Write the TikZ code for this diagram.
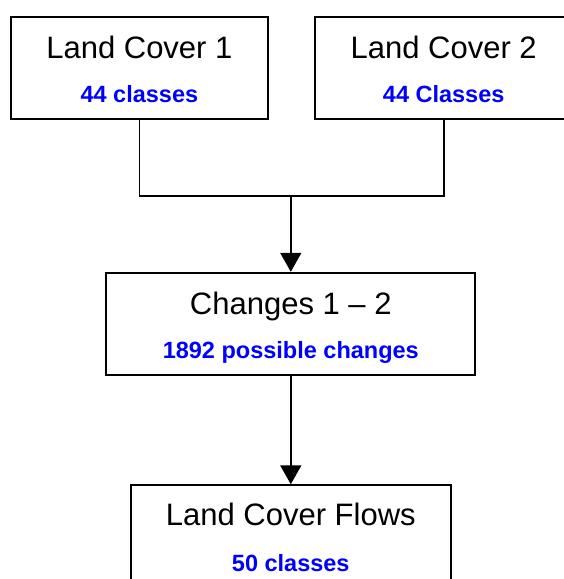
\documentclass[tikz,border=0pt]{standalone}
\usepackage{fontspec}
\setmainfont{Liberation Sans}
\usepackage{tikz}
\usetikzlibrary{arrows.meta}

\definecolor{subblue}{RGB}{0,0,255}

\tikzset{
  box/.style={draw, line width=2pt, minimum height=102pt, inner sep=0pt},
  title/.style={anchor=base, inner sep=0pt, font=\fontsize{31}{37}\selectfont},
  sub/.style={anchor=base, inner sep=0pt, text=subblue, font=\fontsize{23.5}{28}\selectfont\bfseries},
  conn/.style={line width=1.6pt},
  flow/.style={conn, -{Triangle[width=21pt,length=19pt]}}
}

\begin{document}
\begin{tikzpicture}[x=1pt,y=-1pt]
  \useasboundingbox (0,0) rectangle (563,579);

  \node[box, minimum width=257pt] (lc1) at (139.4,67.8) {};
  \node[box, minimum width=258pt] (lc2) at (443.7,67.8) {};
  \node[box, minimum width=369pt] (chg) at (290.8,323.8) {};
  \node[box, minimum width=320pt] (lcf) at (290.8,536.3) {};

  \node[title] (lc1t) at ([yshift=-42.5pt]lc1.north) {Land Cover 1};
  \node[sub] (lc1s) at ([yshift=-86.7pt]lc1.north) {44 classes};
  \node[title] (lc2t) at ([yshift=-42.5pt]lc2.north) {Land Cover 2};
  \node[sub] (lc2s) at ([yshift=-86.7pt]lc2.north) {44 Classes};
  \node[title] (chgt) at ([yshift=-42.3pt]chg.north) {Changes 1 – 2};
  \node[sub] (chgs) at ([yshift=-86.5pt]chg.north) {1892 possible changes};
  \node[title] (lcft) at ([yshift=-41.6pt]lcf.north) {Land Cover Flows};
  \node[sub] (lcfs) at ([yshift=-87pt]lcf.north) {50 classes};

  \coordinate (join) at (290.8,196);
  \draw[conn] (lc1.south) |- (join) -| (lc2.south);
  \draw[flow] (join) -- (chg.north);
  \draw[flow] (chg.south) -- (lcf.north);
\end{tikzpicture}
\end{document}
